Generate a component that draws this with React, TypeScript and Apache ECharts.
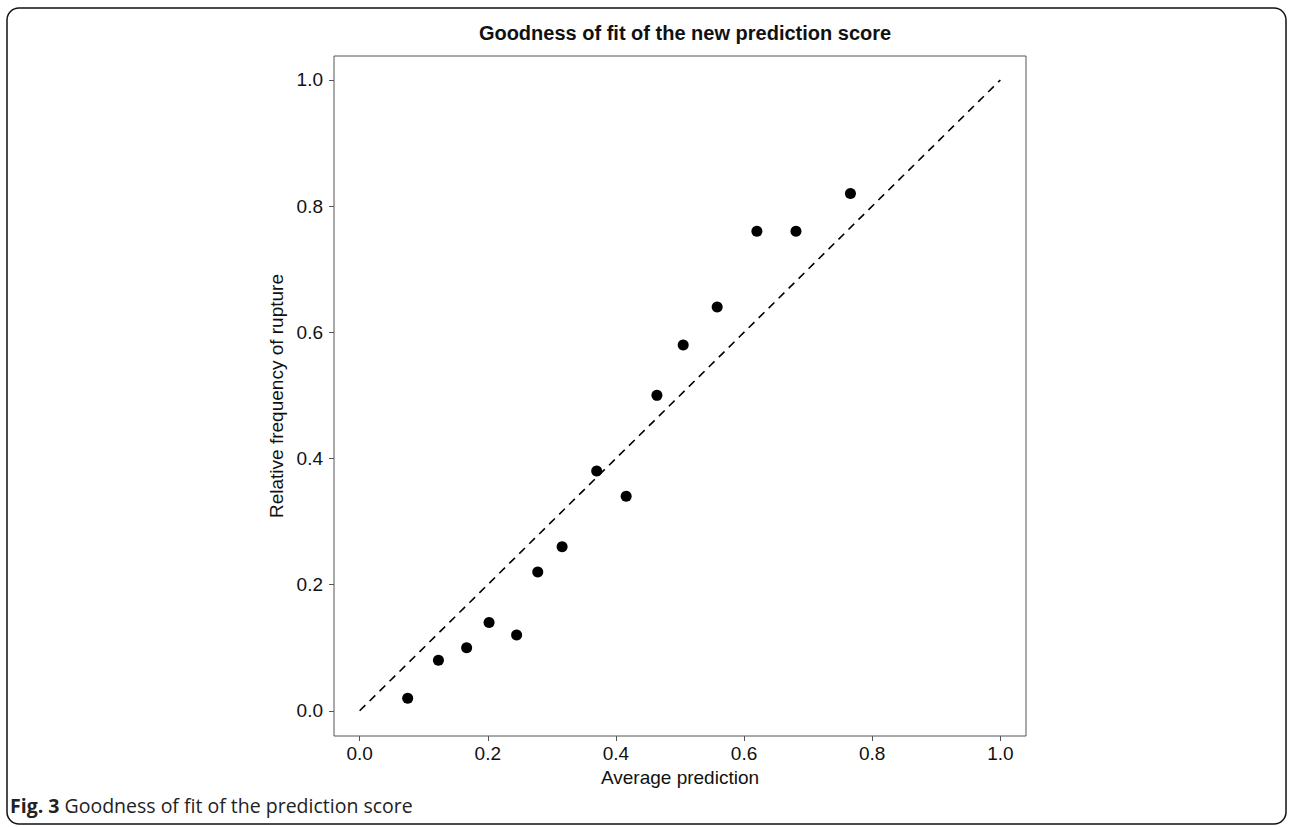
import React, { useEffect, useRef } from "react";
import * as echarts from "echarts";

const avgPrediction = [0.075, 0.123, 0.167, 0.202, 0.245, 0.278, 0.316, 0.370, 0.416, 0.464, 0.505, 0.558, 0.620, 0.681, 0.766];
const relFrequency = [0.02, 0.08, 0.10, 0.14, 0.12, 0.22, 0.26, 0.38, 0.34, 0.50, 0.58, 0.64, 0.76, 0.76, 0.82];
const tickValues = [0, 0.2, 0.4, 0.6, 0.8, 1.0];
const diagonal = [[0, 0], [1, 1]];

const titleText = "Goodness of fit of the new prediction score";
const xName = "Average prediction";
const yName = "Relative frequency of rupture";

export default function App() {
  const ref = useRef<HTMLDivElement>(null);
  useEffect(() => {
    document.body.style.margin = "0";
    const chart = echarts.init(ref.current!, undefined, { renderer: "svg" });
    const font = "Arial, 'Liberation Sans', sans-serif";
    const points = avgPrediction.map((x, i) => [x, relFrequency[i]]);
    chart.setOption({
      animation: false,
      backgroundColor: "#fff",
      title: {
        text: titleText,
        left: 680,
        textAlign: "center",
        top: 18,
        textStyle: { fontFamily: font, fontSize: 20, fontWeight: "bold", color: "#111" },
      },
      grid: {
        left: 334,
        top: 56,
        width: 692,
        height: 680,
        show: true,
        borderColor: "#555",
        borderWidth: 1,
        backgroundColor: "transparent",
      },
      xAxis: {
        type: "value",
        min: -0.04,
        max: 1.04,
        name: xName,
        nameLocation: "middle",
        nameGap: 30,
        nameTextStyle: { fontFamily: font, fontSize: 19, color: "#111" },
        axisLine: { show: false, onZero: false },
        splitLine: { show: false },
        axisTick: { show: true, inside: false, length: 5, customValues: tickValues, lineStyle: { color: "#555" } },
        axisLabel: {
          customValues: tickValues,
          fontFamily: font,
          fontSize: 19,
          color: "#111",
          margin: 8,
          formatter: (v: number) => v.toFixed(1),
        },
      },
      yAxis: {
        type: "value",
        min: -0.04,
        max: 1.038,
        name: yName,
        nameLocation: "middle",
        nameGap: 36,
        nameTextStyle: { fontFamily: font, fontSize: 19, color: "#111" },
        axisLine: { show: false, onZero: false },
        splitLine: { show: false },
        axisTick: { show: true, inside: false, length: 5, customValues: tickValues, lineStyle: { color: "#555" } },
        axisLabel: {
          customValues: tickValues,
          fontFamily: font,
          fontSize: 19,
          color: "#111",
          margin: 11,
          formatter: (v: number) => v.toFixed(1),
        },
      },
      series: [
        {
          type: "line",
          data: diagonal,
          showSymbol: false,
          symbol: "none",
          lineStyle: { color: "#000", width: 1.6, type: [8, 6] },
          silent: true,
        },
        {
          type: "scatter",
          data: points,
          symbol: "circle",
          symbolSize: 11,
          itemStyle: { color: "#000", opacity: 1 },
        },
      ],
      graphic: [
        {
          type: "rect",
          shape: { x: 7, y: 8, width: 1279, height: 816, r: 12 },
          style: { fill: "none", stroke: "#111", lineWidth: 1.5 },
          silent: true,
        },
        {
          type: "text",
          left: 10,
          top: 795,
          style: {
            rich: {
              b: { fontFamily: "'Open Sans', sans-serif", fontWeight: "bold", fontSize: 19.5, fill: "#222" },
              n: { fontFamily: "'Open Sans', sans-serif", fontSize: 19.5, fill: "#222" },
            },
            text: "{b|Fig. 3}{n| Goodness of fit of the prediction score}",
          },
        },
      ],
    });
    return () => chart.dispose();
  }, []);
  return <div ref={ref} style={{ width: 1292, height: 827 }} />;
}
